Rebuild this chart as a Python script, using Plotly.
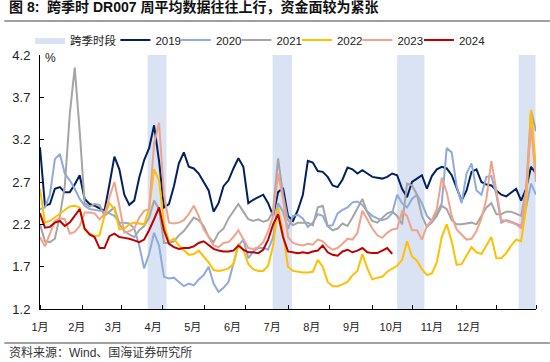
import plotly.graph_objects as go

# ---------------- data ----------------
period = list(range(101))  # sampling index along the year (1月 .. 12月 end)

month_labels = ["1月", "2月", "3月", "4月", "5月", "6月",
                "7月", "8月", "9月", "10月", "11月", "12月"]
month_label_pos = [0, 7.4, 14.8, 22.8, 30.8, 38.8, 46.8, 54.8, 62.8, 70.8, 79.0, 86.4]
month_tick_pos = [0, 8.6, 16.4, 24.6, 33.2, 41.4, 50, 58.4, 67, 75.2, 84, 92, 100]

# cross-quarter windows (start/end on the period index)
band_start = [21.7, 46.9, 72.0, 96.5]
band_end = [25.5, 50.8, 77.5, 99.9]

y2019 = [3.11, 2.42, 2.44, 2.62, 2.64, 2.58, 2.58, 2.67, 2.78, 2.50, 2.44, 2.42, 2.39, 2.36, 2.67, 3.00, 2.85,
         2.55, 2.43, 2.48, 2.75, 2.96, 3.10, 3.37, 2.95, 2.40, 2.44, 2.65, 2.92, 3.05, 2.88, 2.86, 2.80, 2.70,
         2.60, 2.35, 2.45, 2.65, 2.72, 2.86, 2.98, 2.88, 2.45, 2.49, 2.52, 2.55, 2.45, 2.30, 2.58, 2.63, 2.30,
         2.24, 2.37, 2.55, 2.95, 2.93, 2.83, 2.82, 2.76, 2.66, 2.64, 2.73, 2.87, 2.85, 2.80, 2.84, 2.80, 2.76,
         2.75, 2.74, 2.76, 2.80, 2.78, 2.62, 2.52, 2.70, 2.74, 2.78, 2.62, 2.77, 2.85, 2.88, 2.86, 2.78, 2.63,
         2.48, 2.60, 2.82, 2.85, 2.70, 2.67, 2.66, 2.60, 2.55, 2.53, 2.58, 2.62, 2.48, 2.62, 2.88, 2.80]

y2020 = [2.38, 2.40, 2.55, 2.97, 3.03, 2.80, 2.72, 2.62, 2.50, 2.42, 2.38, 2.37, 2.36, 2.35, 2.33, 2.30, 2.22,
         2.22, 2.21, 2.15, 1.95, 1.68, 1.85, 2.10, 1.95, 1.58, 1.56, 1.57, 1.52, 1.47, 1.50, 1.48, 1.55, 1.60,
         1.70, 1.50, 1.40, 1.45, 1.52, 1.72, 1.95, 2.02, 1.80, 1.88, 1.92, 1.92, 1.90, 2.05, 2.45, 2.35, 2.15,
         2.30, 2.31, 2.27, 2.17, 2.22, 2.32, 2.30, 2.18, 2.19, 2.33, 2.37, 2.40, 2.46, 2.47, 2.43, 2.35, 2.30,
         2.27, 2.25, 2.27, 2.33, 2.55, 2.45, 2.40, 2.50, 2.55, 2.45, 2.30, 2.24, 2.33, 2.45, 3.10, 3.05, 2.65,
         2.45, 2.80, 2.92, 2.60, 2.55, 2.76, 2.77, 2.55, 2.22, 2.25, 2.23, 2.20, 2.18, 2.40, 2.68, 2.55]

y2021 = [2.20, 2.00, 1.99, 2.03, 2.30, 2.65, 3.50, 4.05, 3.30, 2.45, 2.41, 2.44, 2.43, 2.30, 2.35, 2.40, 2.20,
         2.12, 2.08, 2.05, 2.13, 2.18, 2.28, 2.48, 2.38, 1.98, 1.98, 2.00, 2.07, 2.12, 2.20, 2.28, 2.25, 2.18,
         2.05, 1.99, 2.10, 2.15, 2.27, 2.35, 2.44, 2.35, 2.26, 2.24, 2.26, 2.23, 2.25, 2.35, 2.98, 2.55, 2.25,
         2.19, 2.22, 2.22, 2.22, 2.19, 2.40, 2.42, 2.18, 2.13, 2.15, 2.21, 2.18, 2.28, 2.40, 2.50, 2.34, 2.24,
         2.22, 2.28, 2.33, 2.35, 2.30, 2.20, 2.68, 2.66, 2.55, 2.30, 2.17, 2.22, 2.30, 2.42, 2.38, 2.25, 2.20,
         2.20, 2.21, 2.22, 2.20, 2.30, 2.40, 2.45, 2.32, 2.32, 2.35, 2.35, 2.32, 2.30, 2.60, 3.55, 3.30]

y2022 = [2.62, 2.22, 2.24, 2.28, 2.33, 2.36, 2.41, 2.42, 2.40, 2.14, 2.09, 2.06, 2.07, 2.30, 2.45, 2.38, 2.14,
         2.15, 2.20, 2.22, 2.21, 2.20, 2.38, 2.85, 2.72, 2.20, 2.00, 2.03, 1.95, 1.90, 1.84, 1.85, 1.89, 1.82,
         1.75, 1.66, 1.65, 1.66, 1.68, 1.73, 1.97, 1.90, 1.73, 1.67, 1.65, 1.65, 1.71, 1.95, 2.40, 2.10, 1.70,
         1.65, 1.64, 1.63, 1.63, 1.64, 1.78, 1.70, 1.52, 1.47, 1.47, 1.49, 1.52, 1.60, 1.65, 1.85, 1.68, 1.55,
         1.57, 1.58, 1.64, 1.68, 1.71, 1.78, 2.00, 1.82, 1.77, 1.67, 1.60, 1.62, 1.75, 2.05, 2.20, 2.00, 1.72,
         1.73, 1.83, 1.93, 1.87, 1.85, 1.95, 2.05, 1.80, 1.80, 1.86, 1.95, 2.02, 2.00, 2.40, 3.55, 2.85]

y2023 = [2.05, 1.94, 2.09, 2.24, 2.27, 2.26, 2.09, 2.11, 2.18, 2.34, 2.34, 2.33, 2.26, 2.32, 2.52, 2.70, 2.42,
         2.10, 2.12, 2.15, 2.28, 2.36, 2.38, 3.15, 3.40, 2.55, 2.22, 2.21, 2.22, 2.25, 2.32, 2.42, 2.30, 2.14,
         2.05, 1.95, 1.93, 1.98, 1.99, 2.05, 2.13, 2.02, 1.92, 1.91, 1.93, 1.99, 2.12, 2.30, 2.80, 2.50, 2.05,
         1.98, 1.96, 1.95, 1.97, 1.96, 2.02, 2.00, 1.94, 1.90, 1.92, 1.97, 2.03, 2.02, 2.10, 2.36, 2.25, 2.15,
         2.07, 2.04, 2.10, 2.14, 2.15, 2.35, 2.30, 2.13, 2.13, 2.02, 2.18, 2.25, 2.38, 2.75, 2.58, 2.30, 2.14,
         2.08, 2.02, 2.03, 2.12, 2.27, 2.50, 2.95, 2.60, 2.25, 2.24, 2.22, 2.20, 2.15, 2.60, 3.35, 2.70]

y2024 = [2.33, 2.16, 2.17, 2.22, 2.24, 2.18, 2.22, 2.30, 2.38, 2.15, 2.08, 2.05, 1.92, 1.92, 2.06, 2.09, 2.05,
         2.04, 2.03, 2.01, 1.99, 2.02, 2.13, 2.26, 2.40, 2.13, 1.97, 1.93, 1.91, 1.92, 1.92, 1.94, 1.98, 2.00,
         1.95, 1.91, 1.89, 1.88, 1.88, 1.89, 1.95, 1.90, 1.87, 1.87, 1.86, 1.90, 2.02, 2.20, 2.32, 2.05, 1.88,
         1.87, 1.86, 1.87, 1.86, 1.88, 1.89, 1.95, 1.87, 1.84, 1.83, 1.88, 1.90, 1.87, 1.89, 1.92, 1.87, 1.86,
         1.86, 1.89, 1.92, 1.85]

series_names = ["2019", "2020", "2021", "2022", "2023", "2024"]
series_values = [y2019, y2020, y2021, y2022, y2023, y2024]
series_colors = ["#002060", "#8FAADC", "#A5A5A5", "#FFC000", "#F0A38A", "#C00000"]
band_color = "#DAE3F3"
Y_MIN, Y_MAX = 1.2, 4.2

FONT = "Liberation Sans, Arial, Noto Sans CJK SC, sans-serif"

# legend entry positions (paper x), one small legend per entry
band_legend_x = -0.02
series_legend_x = [0.152, 0.274, 0.396, 0.518, 0.640, 0.764]

# ---------------- figure ----------------
fig = go.Figure()

leg_common = dict(orientation="h", y=1.059, xanchor="left", yanchor="middle",
                  font=dict(size=11.5, color="#222"), bgcolor="rgba(0,0,0,0)")
legends = {"legend": dict(x=series_legend_x[0], **leg_common)}

# cross-quarter bands as one filled trace (drawn first, below the lines)
bx, by = [], []
for s, e in zip(band_start, band_end):
    bx += [s, e, e, s, s, None]
    by += [Y_MIN, Y_MIN, Y_MAX, Y_MAX, Y_MIN, None]
legends["legend8"] = dict(x=band_legend_x, **leg_common)
fig.add_trace(go.Scatter(x=bx, y=by, mode="lines", fill="toself", fillcolor=band_color,
                         line=dict(width=0, color=band_color), name="跨季时段",
                         legend="legend8", showlegend=True, hoverinfo="skip"))

for i, (name, vals, color) in enumerate(zip(series_names, series_values, series_colors)):
    lg = "legend" if i == 0 else "legend%d" % (i + 1)
    legends[lg] = dict(x=series_legend_x[i], **leg_common)
    fig.add_trace(go.Scatter(x=period[:len(vals)], y=vals, mode="lines", name=name,
                             line=dict(color=color, width=2), legend=lg, showlegend=True))

fig.update_layout(
    width=550, height=362,
    margin=dict(l=36, r=14, t=55, b=53),
    showlegend=True,
    paper_bgcolor="white", plot_bgcolor="white",
    font=dict(family=FONT, size=11, color="#222"),
    xaxis=dict(range=[0, 100], showline=True, linecolor="#000", linewidth=1,
               showgrid=False, zeroline=False,
               tickmode="array", tickvals=month_label_pos, ticktext=month_labels,
               ticks="", tickfont=dict(size=11, color="#222"), ticklabelstandoff=8,
               minor=dict(tickvals=month_tick_pos, ticks="inside", ticklen=4,
                          tickcolor="#000", tickwidth=1, showgrid=False)),
    yaxis=dict(range=[Y_MIN, Y_MAX], showline=True, linecolor="#000", linewidth=1,
               showgrid=False, zeroline=False, tick0=1.2, dtick=0.5,
               ticks="inside", ticklen=4, tickcolor="#000", tickformat=".1f",
               tickfont=dict(size=13, color="#222"), ticklabelstandoff=6),
    **legends,
)

fig.add_annotation(text="%", xref="paper", yref="paper", x=0.006, y=0.99,
                   xanchor="left", yanchor="middle", showarrow=False,
                   font=dict(size=12, color="#222"))

fig.add_annotation(text="<b>图 8:  跨季时 DR007 周平均数据往往上行，资金面较为紧张</b>",
                   xref="paper", yref="paper", x=-0.066, y=1.19,
                   xanchor="left", yanchor="middle", showarrow=False,
                   font=dict(size=14, color="#111", family="Liberation Sans, Noto Sans CJK SC"))
fig.add_annotation(text="资料来源：Wind、国海证券研究所",
                   xref="paper", yref="paper", x=-0.066, y=-0.173,
                   xanchor="left", yanchor="middle", showarrow=False,
                   font=dict(size=12, color="#333", family="Liberation Sans, Noto Sans CJK SC"))

fig.add_shape(type="line", xref="paper", yref="paper", x0=-0.072, x1=1.028,
              y0=1.134, y1=1.134, line=dict(color="#808080", width=1.5))
fig.add_shape(type="line", xref="paper", yref="paper", x0=-0.072, x1=1.028,
              y0=-0.134, y1=-0.134, line=dict(color="#808080", width=1.5))

fig.write_html("out.html", config={"displayModeBar": False},
               post_script="document.body.style.margin='0px';document.body.style.overflow='hidden';")
